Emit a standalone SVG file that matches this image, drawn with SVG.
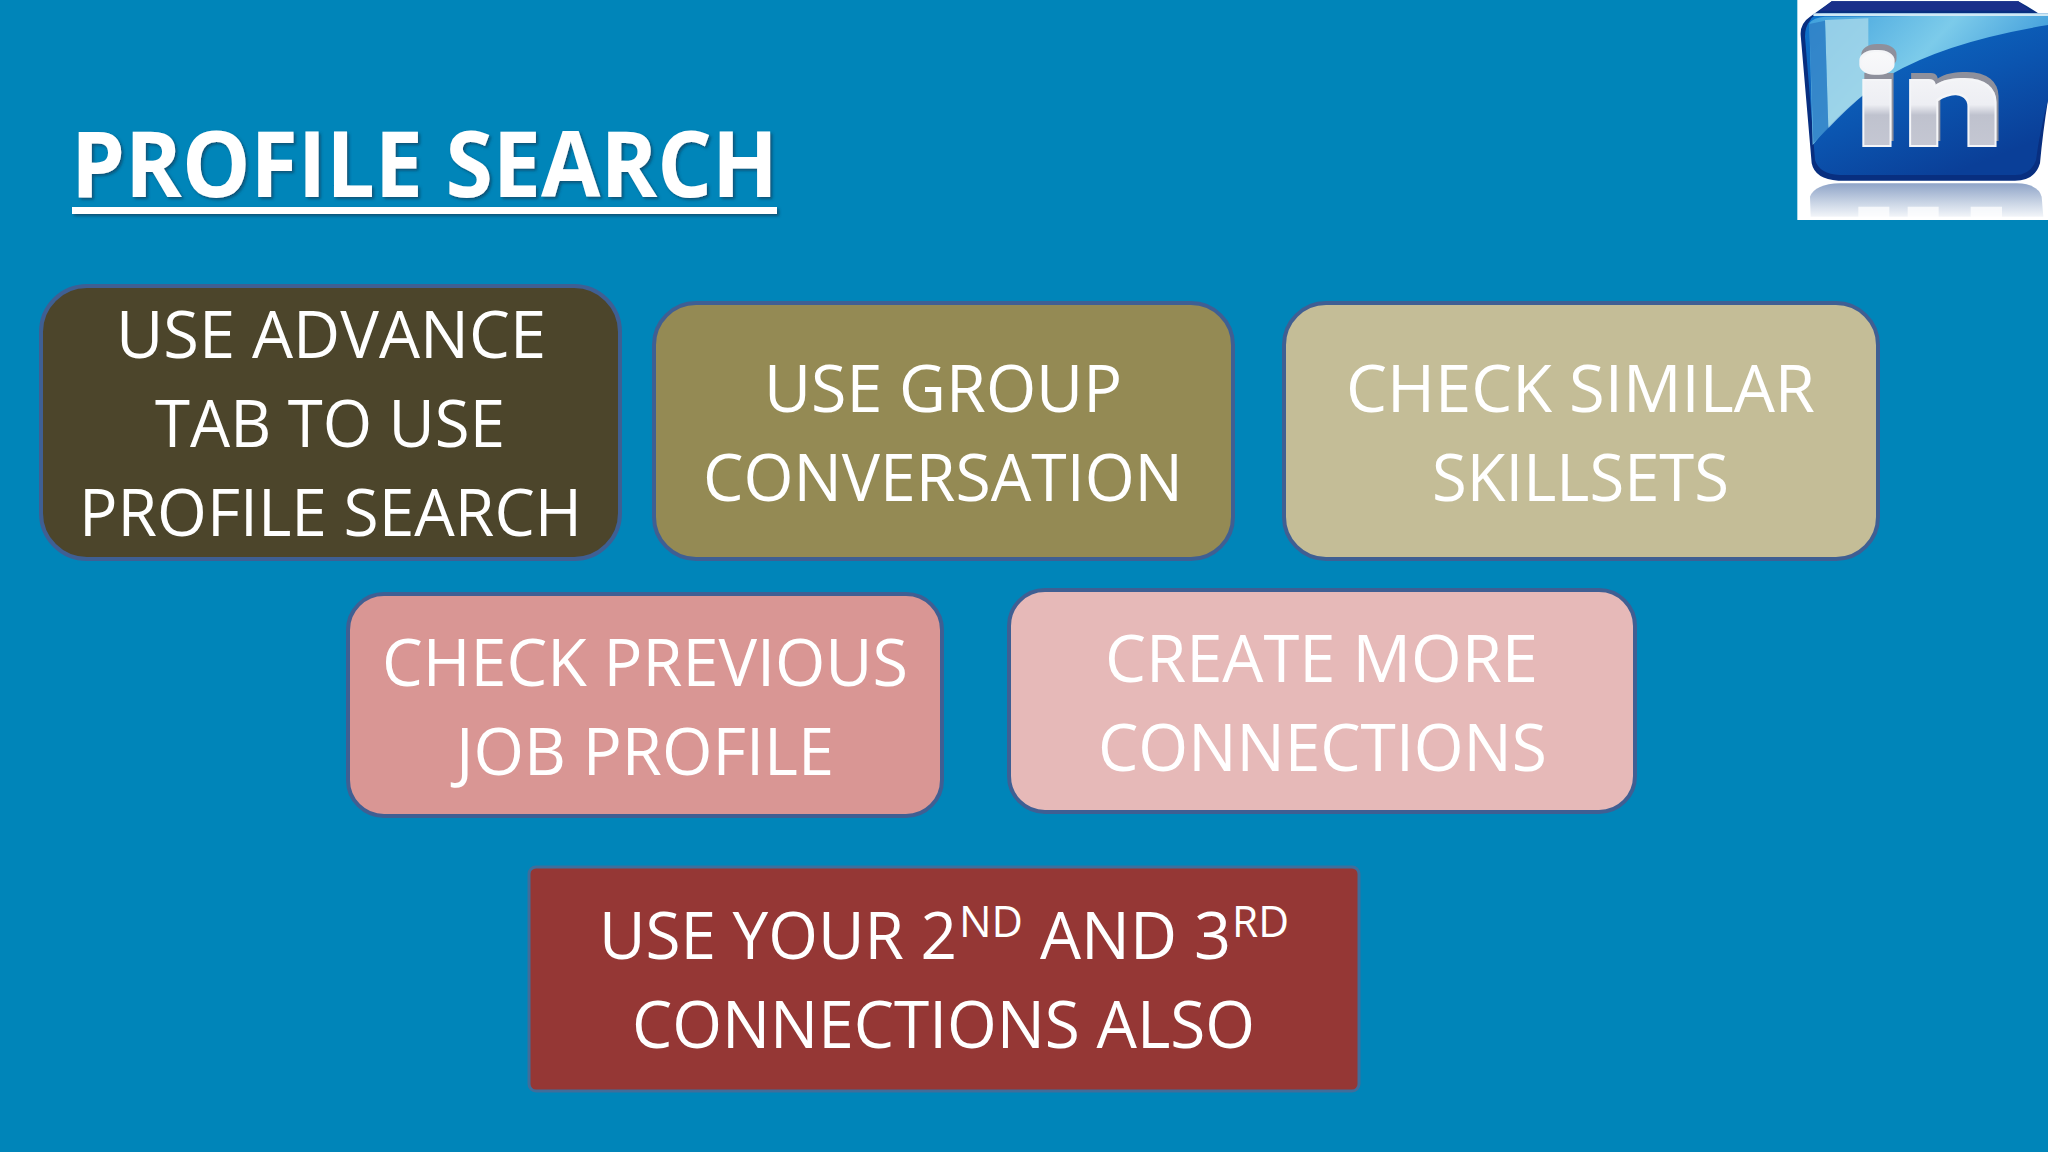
<svg xmlns="http://www.w3.org/2000/svg" width="2048" height="1152" viewBox="0 0 2048 1152">
<style>
.box{stroke:#3F5F93;stroke-width:4}
.t{font-family:"Open Sans","Noto Sans","Liberation Sans",sans-serif;font-size:66px;fill:#FFFFFF;text-anchor:start}
.sup{font-size:43px}
.title{font-family:"Open Sans","Noto Sans","Liberation Sans",sans-serif;font-size:91px;font-weight:700;fill:#FFFFFF}
</style>
<defs>
<filter id="ds" x="-5%" y="-10%" width="110%" height="130%"><feDropShadow dx="2" dy="2" stdDeviation="1.5" flood-color="#0A3A5A" flood-opacity="0.7"/></filter>
<filter id="bevel" x="-10%" y="-20%" width="120%" height="140%">
<feMorphology in="SourceAlpha" operator="dilate" radius="5" result="fat"/>
<feOffset in="fat" dx="6" dy="-18" result="up"/>
<feFlood flood-color="#8E909C"/><feComposite in2="up" operator="in" result="gray"/>
<feFlood flood-color="#F4F5F8"/><feComposite in2="fat" operator="in" result="edge"/>
<feMerge><feMergeNode in="gray"/><feMergeNode in="edge"/><feMergeNode in="SourceGraphic"/></feMerge>
</filter>
<linearGradient id="body" x1="0" y1="0" x2="0.6" y2="1"><stop offset="0" stop-color="#0E74CC"/><stop offset="0.6" stop-color="#0B55B0"/><stop offset="1" stop-color="#0A3F98"/></linearGradient>
<linearGradient id="sky" x1="0" y1="0" x2="1" y2="0.5"><stop offset="0" stop-color="#3FA0DC"/><stop offset="0.5" stop-color="#7CCBEA"/><stop offset="1" stop-color="#2E8ED6"/></linearGradient>
<linearGradient id="metal" x1="0" y1="0" x2="0" y2="1"><stop offset="0" stop-color="#FFFFFF"/><stop offset="0.55" stop-color="#EDEEF3"/><stop offset="0.62" stop-color="#BFC2CE"/><stop offset="1" stop-color="#C9CBD6"/></linearGradient>
<linearGradient id="refl" x1="0" y1="0" x2="0" y2="1"><stop offset="0" stop-color="#8FA4C8"/><stop offset="0.6" stop-color="#CBD6E6"/><stop offset="1" stop-color="#F2F5F9"/></linearGradient>
</defs>
<rect width="2048" height="1152" fill="#0085B9"/>

<g id="logo" transform="translate(1760 0) scale(0.33333)">
<rect x="112" y="0" width="752" height="660" fill="#FFFFFF"/>
<path d="M152 650 L150 590 Q165 552 240 550 L770 550 Q835 552 845 590 L850 650 Z" fill="url(#refl)"/>
<path d="M295 620H388V654H295ZM443 620H536V654H443ZM632 620H726V654H632Z" fill="#FFFFFF" opacity="0.75"/>
<path d="M215 4 L775 4 Q840 40 864 62 L864 300 Q848 400 840 490 Q825 542 765 542 L235 542 Q165 538 155 490 L122 105 Q120 70 150 50 Z" fill="#082F80"/>
<path d="M215 4 L775 4 L810 32 L180 32 Z" fill="#1A2F8A"/>
<path d="M150 62 Q160 42 190 40 L864 40 L864 300 Q838 400 828 480 Q812 525 765 525 L240 525 Q178 522 165 480 L135 110 Q135 80 150 62 Z" fill="url(#body)"/>
<path d="M148 70 Q160 52 195 50 L864 45 L864 75 Q560 125 390 225 Q250 320 158 435 Z" fill="url(#sky)"/>
<path d="M195 60 L325 55 L325 272 Q255 330 205 385 Z" fill="#A8D8EA" opacity="0.8"/>
<path d="M148 72 L195 62 L205 385 L160 430 Z" fill="#2E7FC6" opacity="0.85"/>
<path d="M160 44 H864" stroke="#CFE9F5" stroke-width="8" fill="none"/>
<text x="280" y="436" textLength="452" lengthAdjust="spacingAndGlyphs" font-family="Lato,'Open Sans',sans-serif" font-weight="900" font-size="370" fill="url(#metal)" filter="url(#bevel)">in</text>
</g>

<g id="title" filter="url(#ds)">
<text class="title" x="71" y="197" textLength="707" lengthAdjust="spacingAndGlyphs">PROFILE SEARCH</text>
<rect x="72" y="207" width="705" height="7" fill="#FFFFFF"/>
</g>

<g id="node-advance">
<rect class="box" x="41" y="286" width="579" height="273" rx="46" fill="#4C452B"/>
<text class="t"><tspan x="116" y="358" textLength="430" lengthAdjust="spacingAndGlyphs">USE ADVANCE</tspan><tspan x="155" y="447" textLength="350" lengthAdjust="spacingAndGlyphs">TAB TO USE</tspan><tspan x="79" y="536" textLength="503" lengthAdjust="spacingAndGlyphs">PROFILE SEARCH</tspan></text>
</g>
<g id="node-group">
<rect class="box" x="654" y="303" width="579" height="256" rx="42" fill="#948A54"/>
<text class="t"><tspan x="764" y="412" textLength="358" lengthAdjust="spacingAndGlyphs">USE GROUP</tspan><tspan x="703" y="501" textLength="480" lengthAdjust="spacingAndGlyphs">CONVERSATION</tspan></text>
</g>
<g id="node-skillsets">
<rect class="box" x="1284" y="303" width="594" height="256" rx="42" fill="#C4BD97"/>
<text class="t"><tspan x="1346" y="412" textLength="469" lengthAdjust="spacingAndGlyphs">CHECK SIMILAR</tspan><tspan x="1432" y="501" textLength="297" lengthAdjust="spacingAndGlyphs">SKILLSETS</tspan></text>
</g>
<g id="node-previous">
<rect class="box" x="348" y="594" width="594" height="222" rx="36" fill="#D99694"/>
<text class="t"><tspan x="382" y="686" textLength="526" lengthAdjust="spacingAndGlyphs">CHECK PREVIOUS</tspan><tspan x="456" y="775" textLength="378" lengthAdjust="spacingAndGlyphs">JOB PROFILE</tspan></text>
</g>
<g id="node-connections">
<rect class="box" x="1009" y="590" width="626" height="222" rx="36" fill="#E6B9B8"/>
<text class="t"><tspan x="1105" y="682" textLength="433" lengthAdjust="spacingAndGlyphs">CREATE MORE</tspan><tspan x="1098" y="771" textLength="449" lengthAdjust="spacingAndGlyphs">CONNECTIONS</tspan></text>
</g>
<g id="node-2nd-3rd">
<rect x="529" y="867" width="830" height="224" rx="7" fill="#953735" stroke="#3F6E9B" stroke-width="3"/>
<text class="t"><tspan x="599" y="959" textLength="358" lengthAdjust="spacingAndGlyphs">USE YOUR 2</tspan><tspan class="sup" x="959" y="937" textLength="64" lengthAdjust="spacingAndGlyphs">ND</tspan><tspan x="1040" y="959" textLength="191" lengthAdjust="spacingAndGlyphs">AND 3</tspan><tspan class="sup" x="1232" y="937" textLength="57" lengthAdjust="spacingAndGlyphs">RD</tspan><tspan x="632" y="1048" textLength="623" lengthAdjust="spacingAndGlyphs">CONNECTIONS ALSO</tspan></text>
</g>
</svg>
